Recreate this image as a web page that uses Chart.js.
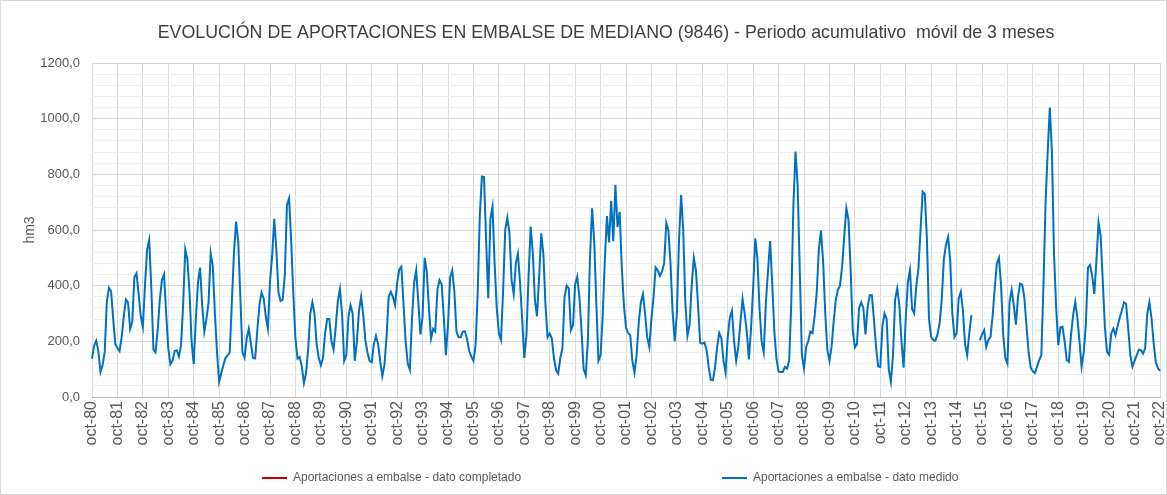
<!DOCTYPE html>
<html lang="es">
<head>
<meta charset="utf-8">
<title>Aportaciones embalse de Mediano</title>
<script src="https://cdn.jsdelivr.net/npm/chart.js@4.4.1/dist/chart.umd.min.js"></script>
<style>
  html, body { margin: 0; padding: 0; background: #ffffff; }
  #grafico { display: block; }
</style>
</head>
<body>
<canvas id="grafico" width="1167" height="495" style="width:1167px;height:495px"></canvas>
<script>
// Meses del año hidrológico (octubre a septiembre)
const MESES = ['oct', 'nov', 'dic', 'ene', 'feb', 'mar', 'abr', 'may', 'jun', 'jul', 'ago', 'sep'];
const PRIMER_ANIO = 1980;
const ULTIMO_ANIO = 2022;

// Aportación acumulada móvil de 3 meses (hm3), dato medido, por décadas hidrológicas
const medido1980 = [
  138, 185, 202, 165,  90, 115, 162, 342, 392, 380, 280, 190,   // 1980-81
  176, 165, 215, 290, 350, 340, 245, 270, 430, 444, 370, 290,   // 1981-82
  252, 400, 530, 564, 390, 170, 160, 240, 350, 420, 440, 300,   // 1982-83
  175, 118, 130, 165, 168, 145, 185, 330, 530, 495, 380, 200,   // 1983-84
  118, 280, 410, 465, 330, 235, 280, 340, 516, 470, 300, 160,   // 1984-85
   55,  85, 115, 140, 150, 160, 340, 520, 630, 560, 360, 160,   // 1985-86
  142, 210, 245, 190, 140, 138, 240, 330, 375, 355, 290, 245,   // 1986-87
  415, 505, 640, 530, 375, 345, 350, 440, 690, 714, 560, 370,   // 1987-88
  210, 138, 144, 110,  50,  85, 170, 300, 340, 300, 190, 140,   // 1988-89
  114, 140, 230, 280, 280, 200, 170, 250, 345, 388, 300, 130    // 1989-90
];
const medido1990 = [
  150, 285, 330, 300, 130, 200, 310, 360, 295, 205, 160, 130,   // 1990-91
  125, 190, 220, 190, 130,  75, 115, 215, 360, 378, 360, 330,   // 1991-92
  410, 458, 468, 335, 200, 120,  98, 280, 410, 455, 340, 225,   // 1992-93
  290, 500, 450, 320, 210, 245, 235, 385, 420, 405, 290, 150,   // 1993-94
  260, 430, 455, 380, 235, 215, 215, 235, 236, 208, 165, 146,   // 1994-95
  130, 185, 370, 650, 792, 790, 560, 355, 640, 684, 480, 320,   // 1995-96
  230, 205, 380, 600, 645, 590, 420, 370, 480, 515, 410, 280,   // 1996-97
  140, 220, 430, 612, 520, 350, 290, 430, 588, 515, 330, 215,   // 1997-98
  228, 210, 140,  96,  84, 140, 175, 360, 400, 390, 240, 258,   // 1998-99
  405, 432, 360, 240, 100,  78, 200, 500, 678, 560, 335, 130    // 1999-00
];
const medido2000 = [
  150, 290, 490, 650, 555, 705, 560, 762, 610, 665, 470, 330,   // 2000-01
  250, 230, 222, 130,  88, 150, 265, 340, 370, 300, 215, 180,   // 2001-02
  280, 360, 466, 455, 435, 450, 480, 625, 600, 480, 305, 200,   // 2002-03
  300, 560, 726, 600, 340, 220, 260, 400, 500, 455, 330, 195,   // 2003-04
  192, 196, 170, 110,  62,  60, 105, 180, 230, 212, 130,  88,   // 2004-05
  215, 285, 310, 200, 130, 180, 268, 352, 300, 235, 135, 245,   // 2005-06
  390, 570, 500, 320, 200, 160, 340, 450, 560, 410, 235, 138,   // 2006-07
   92,  90,  90, 108, 102, 130, 340, 690, 882, 760, 460, 150,   // 2007-08
  102, 180, 200, 235, 230, 290, 375, 530, 598, 490, 306, 170,   // 2008-09
  130, 180, 270, 350, 385, 400, 470, 580, 678, 636, 460, 240    // 2009-10
];
const medido2010 = [
  178, 190, 320, 340, 320, 225, 320, 366, 366, 280, 180, 110,   // 2010-11
  108, 255, 300, 280, 100,  55, 150, 350, 390, 330, 200, 105,   // 2011-12
  280, 410, 456, 316, 300, 400, 460, 600, 738, 730, 570, 280,   // 2012-13
  215, 205, 202, 225, 265, 350, 495, 546, 575, 490, 300, 215,   // 2013-14
  228, 354, 378, 310, 190, 150, 230, 294, null, null, null, 204, // 2014-15
  225, 240, 180, 205, 215, 290, 390, 480, 500, 400, 225, 140,   // 2015-16
  120, 342, 385, 330, 260, 360, 408, 404, 355, 255, 160, 105,   // 2016-17
   92,  86, 110, 133, 150, 400, 700, 880, 1040, 880, 510, 320,  // 2017-18
  186, 250, 252, 200, 132, 126, 222, 294, 342, 285, 200, 110,   // 2018-19
  160, 260, 465, 474, 435, 370, 490, 627, 578, 415, 250, 162    // 2019-20
];
const medido2020 = [
  152, 228, 246, 222, 255, 286, 311, 340, 334, 246, 150, 109,   // 2020-21
  130, 150, 170, 168, 156, 175, 300, 341, 282, 194, 125, 104,   // 2021-22
   94                                                           // oct-22
];

const TITULO = 'EVOLUCIÓN DE APORTACIONES EN EMBALSE DE MEDIANO (9846) - Periodo acumulativo  móvil de 3 meses';
const SERIE_COMPLETADO = 'Aportaciones a embalse - dato completado';
const SERIE_MEDIDO = 'Aportaciones a embalse - dato medido';
const TITULO_EJE_Y = 'hm3';

// Etiquetas mensuales "oct-80" ... "oct-22"
const etiquetasMes = [];
for (let a = PRIMER_ANIO; a < ULTIMO_ANIO; a++) {
  MESES.forEach((m, i) => {
    const anio = i < 3 ? a : a + 1;
    etiquetasMes.push(m + '-' + String(anio % 100).padStart(2, '0'));
  });
}
etiquetasMes.push(MESES[0] + '-' + String(ULTIMO_ANIO % 100).padStart(2, '0'));

const datoMedido = [].concat(medido1980, medido1990, medido2000, medido2010, medido2020);
// Sin meses completados en el periodo representado
const datoCompletado = etiquetasMes.map(() => null);

const FUENTE = '"Liberation Sans", Arial, Helvetica, sans-serif';
const COLOR_TEXTO = '#595959';
Chart.defaults.font.family = FUENTE;
Chart.defaults.color = COLOR_TEXTO;

// Marco exterior, título y leyenda
const decoracion = {
  id: 'decoracion',
  beforeDraw(chart) {
    const c = chart.ctx;
    c.save();
    c.fillStyle = '#ffffff';
    c.fillRect(0, 0, chart.width, chart.height);
    c.restore();
  },
  afterDraw(chart) {
    const c = chart.ctx;
    c.save();
    c.strokeStyle = '#d9d9d9';
    c.lineWidth = 1;
    c.strokeRect(0.5, 0.5, chart.width - 1, chart.height - 1);

    c.fillStyle = '#404040';
    c.font = '17.8px ' + FUENTE;
    c.textAlign = 'center';
    c.textBaseline = 'middle';
    c.fillText(TITULO, 606, 33);

    const posLeyenda = [262, 722];
    const yLeyenda = 478;
    c.font = '12px ' + FUENTE;
    c.textAlign = 'left';
    chart.data.datasets.forEach((ds, i) => {
      const x = posLeyenda[i];
      c.strokeStyle = ds.borderColor;
      c.lineWidth = 2;
      c.beginPath();
      c.moveTo(x, yLeyenda);
      c.lineTo(x + 25, yLeyenda);
      c.stroke();
      c.fillStyle = COLOR_TEXTO;
      c.fillText(ds.label, x + 31, yLeyenda);
    });
    c.restore();
  }
};

new Chart(document.getElementById('grafico'), {
  type: 'line',
  data: {
    labels: etiquetasMes,
    datasets: [
      {
        label: SERIE_COMPLETADO,
        data: datoCompletado,
        borderColor: '#C00000',
        backgroundColor: '#C00000',
        borderWidth: 2,
        pointRadius: 0,
        spanGaps: false
      },
      {
        label: SERIE_MEDIDO,
        data: datoMedido,
        borderColor: '#0070C0',
        backgroundColor: '#0070C0',
        borderWidth: 2,
        pointRadius: 0,
        tension: 0,
        spanGaps: false
      }
    ]
  },
  options: {
    responsive: false,
    animation: false,
    devicePixelRatio: 1,
    layout: { padding: { top: 63, right: 7, bottom: 32, left: 0 } },
    plugins: {
      legend: { display: false },
      title: { display: false },
      tooltip: { enabled: false }
    },
    scales: {
      x: {
        type: 'category',
        grid: {
          color: (c) => (c.index % 12 === 0 ? '#d9d9d9' : 'rgba(0,0,0,0)'),
          drawTicks: false,
          lineWidth: 1
        },
        border: { display: true, color: '#bfbfbf' },
        ticks: {
          autoSkip: false,
          minRotation: 90,
          maxRotation: 90,
          padding: 4,
          color: COLOR_TEXTO,
          font: { size: 16 },
          callback: function (v, i) { return i % 12 === 0 ? this.getLabelForValue(v) : ''; }
        },
        afterFit(s) {
          s.height = 66;
          s.paddingLeft = 0;
          s.paddingRight = 0;
        }
      },
      y: {
        min: 0,
        max: 1200,
        ticks: {
          stepSize: 40,
          maxTicksLimit: 100,
          autoSkip: false,
          padding: 12,
          color: COLOR_TEXTO,
          font: { size: 13 },
          callback: (v) => (v % 200 === 0 ? v.toFixed(1).replace('.', ',') : '')
        },
        grid: {
          color: (c) => (c.tick && c.tick.value % 200 === 0 ? '#d9d9d9' : '#efefef'),
          drawTicks: false
        },
        border: { display: false },
        title: {
          display: true,
          text: TITULO_EJE_Y,
          color: COLOR_TEXTO,
          font: { size: 14 },
          padding: { top: 22, bottom: 0 }
        },
        afterFit(s) { s.width = 92; }
      }
    }
  },
  plugins: [decoracion]
});
</script>
</body>
</html>
